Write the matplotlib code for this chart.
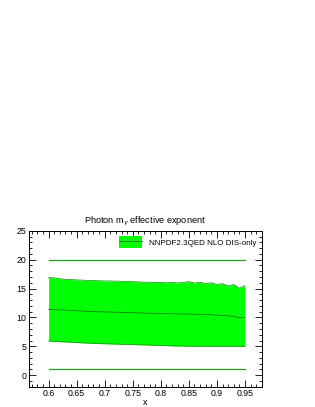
import numpy as np
import matplotlib
matplotlib.use("Agg")
import matplotlib.pyplot as plt
from matplotlib.ticker import MultipleLocator
from matplotlib.patches import Rectangle
from matplotlib.lines import Line2D

plt.rcParams['font.family'] = ['Liberation Sans', 'DejaVu Sans']

x = [0.60, 0.61, 0.62, 0.63, 0.64, 0.65, 0.66, 0.67, 0.68, 0.69,
     0.70, 0.71, 0.72, 0.73, 0.74, 0.75, 0.76, 0.77, 0.78, 0.79,
     0.80, 0.81, 0.82, 0.83, 0.84, 0.85, 0.86, 0.87, 0.88, 0.89,
     0.90, 0.91, 0.92, 0.93, 0.94, 0.95]
upper = [16.9, 16.85, 16.7, 16.6, 16.55, 16.5, 16.45, 16.4, 16.38, 16.35,
         16.32, 16.3, 16.28, 16.25, 16.22, 16.2, 16.15, 16.1, 16.1, 16.05,
         16.05, 16.0, 16.05, 15.98, 16.05, 16.2, 15.95, 16.1, 15.85, 16.0,
         15.7, 15.85, 15.45, 15.7, 15.05, 15.5]
central = [11.4, 11.35, 11.3, 11.25, 11.2, 11.15, 11.1, 11.05, 11.0, 10.98,
           10.95, 10.92, 10.9, 10.87, 10.85, 10.82, 10.78, 10.75, 10.72, 10.7,
           10.68, 10.66, 10.64, 10.62, 10.6, 10.58, 10.55, 10.52, 10.5, 10.45,
           10.4, 10.35, 10.3, 10.15, 9.95, 10.0]
lower = [5.9, 5.85, 5.8, 5.75, 5.7, 5.65, 5.6, 5.55, 5.5, 5.47,
         5.44, 5.41, 5.38, 5.35, 5.32, 5.3, 5.27, 5.24, 5.2, 5.17,
         5.14, 5.11, 5.08, 5.06, 5.04, 5.02, 5.01, 5.0, 5.0, 5.0,
         5.0, 5.0, 5.0, 5.0, 5.0, 5.0]
bounds = [20, 1]

fill_c = '#00ff00'
line_c = '#1fa01f'

fig = plt.figure(figsize=(3.15, 4.07), dpi=100)
ax = fig.add_axes([0.092, 0.0499, 0.739, 0.383])

ax.fill_between(x, lower, upper, color=fill_c, lw=0)
ax.plot(x, upper, color=line_c, lw=0.6)
ax.plot(x, lower, color=line_c, lw=0.6)
ax.plot(x, central, color='#108010', lw=0.6)
for b in bounds:
    ax.plot([x[0], x[-1]], [b, b], color=line_c, lw=0.9)

ax.set_xlim(0.565, 0.98)
ax.set_ylim(-2, 25)
ax.xaxis.set_major_locator(MultipleLocator(0.05))
ax.xaxis.set_minor_locator(MultipleLocator(0.01))
ax.yaxis.set_major_locator(MultipleLocator(5))
ax.yaxis.set_minor_locator(MultipleLocator(1))
ax.set_xticks([0.6, 0.65, 0.7, 0.75, 0.8, 0.85, 0.9, 0.95])
ax.set_xticklabels(['0.6', '0.65', '0.7', '0.75', '0.8', '0.85', '0.9', '0.95'])
ax.tick_params(which='both', direction='in', top=True, right=True, labelsize=6.3, pad=2, width=0.6)
ax.tick_params(which='major', length=5)
ax.tick_params(which='minor', length=2.5)
for s in ax.spines.values():
    s.set_linewidth(0.7)
ax.set_xlabel('x', fontsize=6.5, labelpad=0)
ax.set_title(r'Photon m$_{\gamma}$ effective exponent', fontsize=6.6, pad=5)

h = (Rectangle((0, 0), 1, 1, facecolor=fill_c, edgecolor='none'),
     Line2D([0], [0], color='#108010', lw=0.7))
leg = ax.legend([h], ['NNPDF2.3QED NLO DIS-only'], loc='upper right',
                fontsize=5.8, frameon=False, handlelength=2.9, handleheight=1.9,
                bbox_to_anchor=(1.0, 1.0), borderaxespad=0.3, handletextpad=0.8)

fig.savefig('out.png', dpi=100)
